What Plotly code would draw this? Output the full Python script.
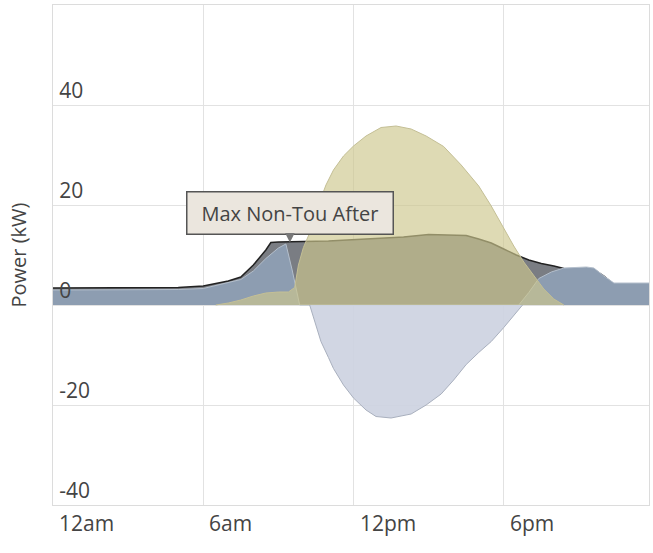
import plotly.graph_objects as go

# ---- data (hours of day, kW) ----
cons_hours = [0, 1, 2, 3, 4, 5, 6, 7, 7.5, 8, 8.5, 8.7, 9, 9.5, 10, 11, 12, 13, 14, 15, 16, 16.5,
              17, 17.5, 18, 18.5, 19, 19.5, 20, 20.4, 21, 21.3, 21.6, 22, 22.4, 23, 23.8]
consumption = [3.4, 3.4, 3.4, 3.4, 3.4, 3.5, 3.8, 4.8, 5.6, 8.0, 11.0, 12.5, 12.6, 12.7, 12.7, 12.8,
               13.1, 13.3, 13.6, 14.1, 14.0, 13.9, 13.2, 12.4, 11.2, 10.0, 9.0, 8.3, 7.8, 7.3,
               7.2, 7.3, 7.1, 5.8, 4.1, 4.1, 4.1]

grid_hours = [0, 1, 2, 3, 4, 5, 6, 7, 7.5, 8, 8.5, 9, 9.3, 9.55, 9.75, 9.85,
              18.6, 19.0, 19.4, 19.9, 20.4, 21.3, 21.6, 22.0, 22.4, 23, 23.8]
grid_import = [3.0, 3.0, 3.0, 3.0, 3.0, 3.1, 3.3, 4.4, 5.1, 6.8, 9.3, 11.4, 12.2, 7.0, 2.0, 0,
               0, 2.5, 5.3, 6.6, 7.4, 7.6, 7.4, 5.8, 4.4, 4.4, 4.4]

solar_hours = [6.5, 7, 7.5, 8, 8.5, 9, 9.4, 9.65, 9.8, 10.0, 10.3, 10.6, 10.9, 11.2, 11.6, 12.0,
               12.5, 13.1, 13.7, 14.3, 14.9, 15.6, 16.3, 17.0, 17.5, 18.0, 18.4, 18.8, 19.2,
               19.6, 20.0, 20.4]
solar = [0, 0.4, 1.0, 1.8, 2.4, 2.6, 2.6, 3.5, 8.0, 11.5, 15.0, 20.0, 24.0, 27.0, 29.8, 31.8,
         33.8, 35.5, 35.8, 35.2, 33.8, 31.7, 28.0, 23.8, 19.8, 15.2, 11.8, 8.6, 6.0, 3.2, 1.2, 0]

export_hours = [10.25, 10.5, 10.7, 11.0, 11.2, 11.6, 12.0, 12.5, 12.9, 13.5, 14.3, 14.9, 15.5,
                16.0, 16.5, 17.0, 17.5, 18.0, 18.4, 18.75]
export = [0, -4, -7.3, -10.5, -12.7, -16, -18.6, -21, -22.3, -22.6, -21.8, -20, -17.8, -15,
          -11.9, -9.5, -7.3, -4.5, -2.0, 0]

x_tick_vals = [0, 6, 12, 18]
x_tick_text = ["12am", "6am", "12pm", "6pm"]
y_tick_vals = [-40, -20, 0, 20, 40]
y_tick_text = ["-40", "-20", "0", "20", "40"]

tooltip_text = "Max Non-Tou After"
tooltip_hour = 9.46
tooltip_value = 12.5

FONT = "Open Sans"
TEXT = "#444444"

fig = go.Figure()
fig.add_trace(go.Scatter(x=cons_hours, y=consumption, mode="lines", fill="tozeroy",
                         fillcolor="#7a7d83", line=dict(color="#222222", width=1.5),
                         hoverinfo="skip"))
fig.add_trace(go.Scatter(x=grid_hours, y=grid_import, mode="lines", fill="tozeroy",
                         fillcolor="#8d9db1", line=dict(color="#b4bfcc", width=1),
                         hoverinfo="skip"))
fig.add_trace(go.Scatter(x=solar_hours, y=solar, mode="lines", fill="tozeroy",
                         fillcolor="rgba(205,199,141,0.66)", line=dict(color="#c4bf95", width=1),
                         hoverinfo="skip"))
fig.add_trace(go.Scatter(x=export_hours, y=export, mode="lines", fill="tozeroy",
                         fillcolor="rgba(205,211,225,0.92)", line=dict(color="#a9b0be", width=1),
                         hoverinfo="skip"))

# x tick labels, left-aligned just right of each gridline
for xv, xt in zip(x_tick_vals, x_tick_text):
    fig.add_annotation(x=xv, xref="x", y=0, yref="paper", text=xt, showarrow=False,
                       xanchor="left", yanchor="middle", xshift=4, yshift=-18,
                       font=dict(family=FONT, size=21, color=TEXT))

fig.add_annotation(x=tooltip_hour, y=tooltip_value, text=tooltip_text, showarrow=True,
                   arrowhead=2, arrowsize=1.6, arrowwidth=1.2, arrowcolor="#777777",
                   ax=0, ay=-30, standoff=0,
                   font=dict(family=FONT, size=20, color=TEXT),
                   bgcolor="#ebe6de", bordercolor="#555555", borderwidth=1.5, borderpad=2,
                   width=201, height=37)

fig.update_layout(
    width=653, height=553,
    margin=dict(l=53, r=4, t=5, b=48),
    paper_bgcolor="white", plot_bgcolor="white",
    showlegend=False,
    font=dict(family=FONT, color=TEXT, size=20),
)
fig.update_xaxes(range=[0, 23.8], tickvals=x_tick_vals, showticklabels=False,
                 showgrid=True, gridcolor="#e2e2e2", automargin=False,
                 gridwidth=1, zeroline=False, showline=True, linecolor="#dcdcdc", mirror=True,
                 ticks="")
fig.update_yaxes(range=[-40, 60], tickvals=y_tick_vals, ticktext=y_tick_text,
                 ticklabelposition="inside top", ticklabelstandoff=7, automargin=False,
                 showgrid=True, gridcolor="#e2e2e2", gridwidth=1, zeroline=False,
                 showline=True, linecolor="#dcdcdc", mirror=True, ticks="",
                 tickfont=dict(family=FONT, size=21, color=TEXT),
                 title=dict(text="Power (kW)", standoff=27,
                            font=dict(family=FONT, size=20, color=TEXT)))

fig.write_html("out.html", config={"displayModeBar": False},
               post_script="document.body.style.margin='0';document.body.style.padding='0';")
